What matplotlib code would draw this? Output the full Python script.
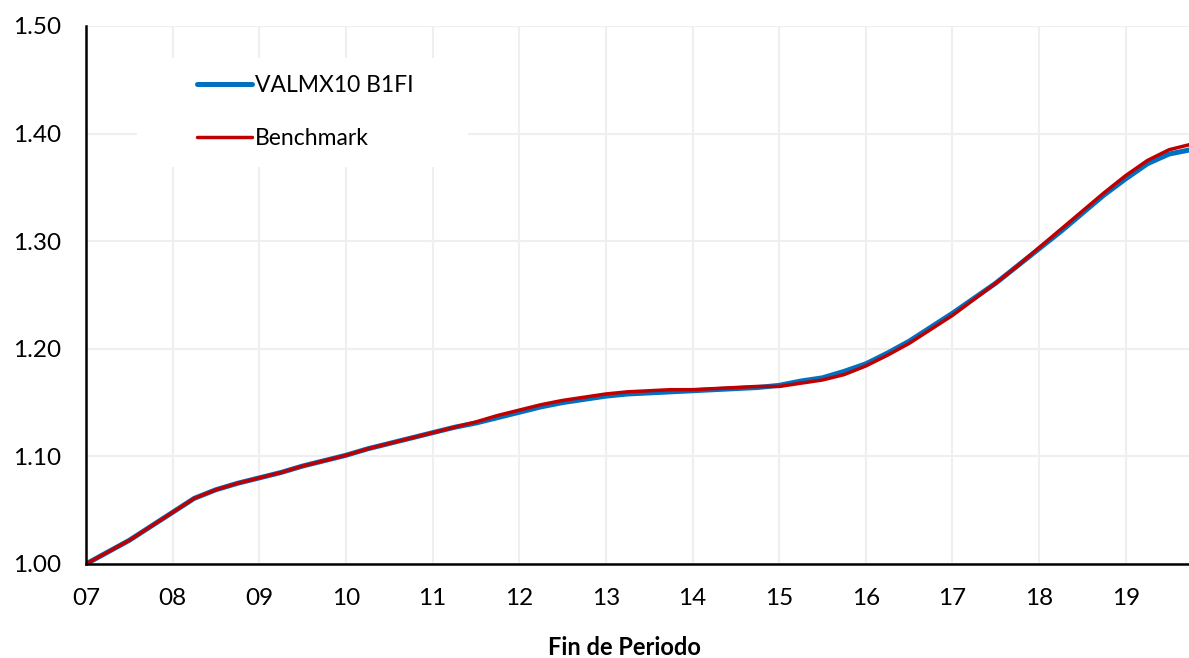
import matplotlib.pyplot as plt
from matplotlib.lines import Line2D
from matplotlib.patches import Rectangle

# fin de periodo (años, trimestral)
years = [7.00, 7.25, 7.50, 7.75, 8.00, 8.25, 8.50, 8.75,
         9.00, 9.25, 9.50, 9.75, 10.00, 10.25, 10.50, 10.75,
         11.00, 11.25, 11.50, 11.75, 12.00, 12.25, 12.50, 12.75,
         13.00, 13.25, 13.50, 13.75, 14.00, 14.25, 14.50, 14.75,
         15.00, 15.25, 15.50, 15.75, 16.00, 16.25, 16.50, 16.75,
         17.00, 17.25, 17.50, 17.75, 18.00, 18.25, 18.50, 18.75,
         19.00, 19.25, 19.50, 19.75]

benchmark = [1.000, 1.011, 1.022, 1.035, 1.048, 1.061, 1.069, 1.075,
             1.080, 1.085, 1.091, 1.096, 1.101, 1.107, 1.112, 1.117,
             1.122, 1.127, 1.132, 1.138, 1.143, 1.148, 1.152, 1.155,
             1.158, 1.160, 1.161, 1.162, 1.162, 1.163, 1.164, 1.165,
             1.165, 1.168, 1.171, 1.176, 1.184, 1.194, 1.205, 1.218,
             1.231, 1.246, 1.261, 1.277, 1.294, 1.311, 1.328, 1.345,
             1.361, 1.375, 1.385, 1.390]

valmx = [1.000, 1.011, 1.022, 1.035, 1.048, 1.061, 1.069, 1.075,
         1.080, 1.085, 1.091, 1.096, 1.101, 1.107, 1.112, 1.117,
         1.122, 1.127, 1.131, 1.136, 1.141, 1.146, 1.150, 1.153,
         1.156, 1.158, 1.159, 1.160, 1.161, 1.162, 1.163, 1.164,
         1.166, 1.170, 1.173, 1.179, 1.186, 1.196, 1.207, 1.220,
         1.233, 1.247, 1.261, 1.277, 1.293, 1.309, 1.326, 1.343,
         1.358, 1.372, 1.381, 1.385]

xtick_pos = list(range(7, 20))
xtick_labels = [f"{y:02d}" for y in xtick_pos]
yticks = [1.00, 1.10, 1.20, 1.30, 1.40, 1.50]

plt.rcParams['font.family'] = ['Lato', 'DejaVu Sans']

fig = plt.figure(figsize=(11.89, 6.58), dpi=100)
ax = fig.add_axes([0.0723, 0.1429, 0.9277, 0.8176])

ax.plot(years, valmx, color='#0070C0', lw=3.6, solid_capstyle='round',
        solid_joinstyle='round', zorder=3)
ax.plot(years, benchmark, color='#C00000', lw=2.5, solid_capstyle='round',
        solid_joinstyle='round', zorder=4)

ax.set_xlim(7, 19.73)
ax.set_ylim(1.0, 1.5)
ax.set_xticks(xtick_pos)
ax.set_xticklabels(xtick_labels)
ax.set_yticks(yticks)
ax.set_yticklabels([f"{v:.2f}" for v in yticks])
ax.tick_params(axis='both', length=0, labelsize=17.5, colors='black')
ax.tick_params(axis='x', pad=17)
ax.tick_params(axis='y', pad=18)

ax.grid(True, color='#efefef', lw=1.5, zorder=0)
ax.set_axisbelow(True)
for s in ['top', 'right']:
    ax.spines[s].set_visible(False)
for s in ['left', 'bottom']:
    ax.spines[s].set_linewidth(1.8)
    ax.spines[s].set_color('black')
    ax.spines[s].set_zorder(5)

ax.set_xlabel('Fin de Periodo', fontsize=17, fontweight='bold')
ax.xaxis.set_label_coords(0.488, -0.133)

# fondo blanco de la leyenda
ax.add_patch(Rectangle((0.0462, 0.738), 0.300, 0.2025, transform=ax.transAxes,
                       facecolor='white', edgecolor='none', zorder=2))

handles = [Line2D([], [], color='#0070C0', lw=3.6, solid_capstyle='round'),
           Line2D([], [], color='#C00000', lw=2.5, solid_capstyle='round')]
leg = ax.legend(handles, ['VALMX10 B1FI', 'Benchmark'],
                loc='center left', bbox_to_anchor=(0.1006, 0.840),
                fontsize=16.5, frameon=False,
                handlelength=2.4, handletextpad=0.15, labelspacing=1.4,
                borderpad=0, borderaxespad=0)
leg.set_zorder(6)

fig.savefig('out.png', dpi=100)
